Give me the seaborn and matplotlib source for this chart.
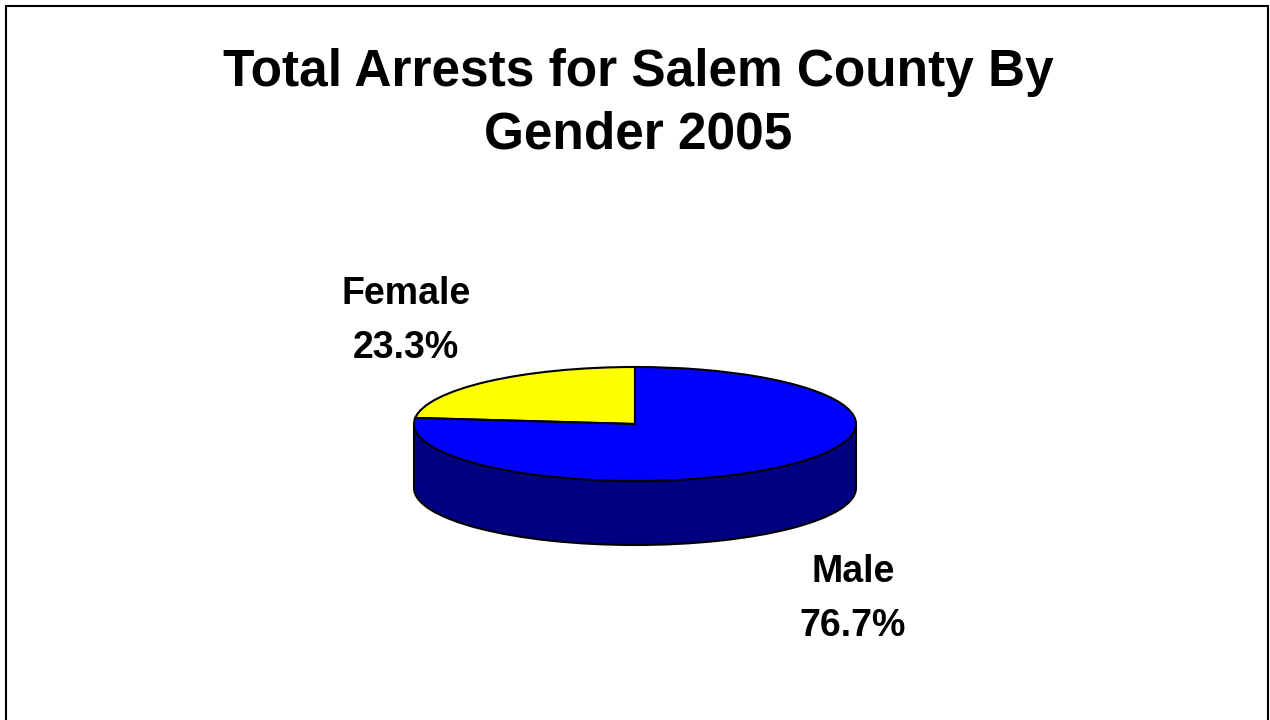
import matplotlib
matplotlib.use("Agg")
import matplotlib.pyplot as plt
import seaborn as sns

# --- Data ---
GENDERS = ["Female", "Male"]
SHARES = [23.3, 76.7]
TOP_COLORS = ["#FFFF00", "#0000FF"]
SIDE_COLORS = ["#808000", "#000080"]
TITLE = "Total Arrests for Salem County By\nGender 2005"

sns.set_theme(style="white")
plt.rcParams['font.family'] = ['Liberation Sans', 'DejaVu Sans']
plt.rcParams['text.color'] = 'black'

W, H = 1270, 720
fig = plt.figure(figsize=(12.7, 7.2), dpi=100)
fig.patch.set_facecolor("white")

# outer chart border (runs off the bottom edge as in the reference)
fig.add_artist(plt.Rectangle((6 / W, -0.05), 1262 / W, 1 - 6 / H + 0.05,
                             transform=fig.transFigure, fill=False,
                             edgecolor="black", linewidth=1.5))

fig.text(638 / W, 1 - 104 / H, TITLE, ha="center", va="center",
         fontsize=37, fontweight="bold", linespacing=1.35, color="black")

# pie axes: 1 x-unit = 221 px, 1 y-unit = 57 px (tilted ellipse)
ax_px = 221
ay_px = 57
cx, cy = 635, 424
depth = 64 / ay_px
xlim = (-1.2, 1.2)
ylim = (-2.4, 1.2)
left = cx + xlim[0] * ax_px
top = cy - ylim[1] * ay_px
w = (xlim[1] - xlim[0]) * ax_px
h = (ylim[1] - ylim[0]) * ay_px
ax = fig.add_axes([left / W, 1 - (top + h) / H, w / W, h / H])

edge = dict(edgecolor="black", linewidth=1.5)

# bottom layer of the 3D pie (fill only, then a plain outline)
ax.pie(SHARES, colors=SIDE_COLORS, startangle=90, counterclock=True,
       center=(0, -depth), wedgeprops=dict(zorder=1, linewidth=0))
ax.pie([sum(SHARES)], startangle=90, center=(0, -depth),
       wedgeprops=dict(zorder=1.5, fill=False, **edge))
# side wall
ax.fill_between([-1, 1], -depth, 0, color=SIDE_COLORS[1], linewidth=0, zorder=2)
ax.vlines([-1, 1], -depth, 0, colors="black", linewidth=1.5, zorder=2.5)
# top face
ax.pie(SHARES, colors=TOP_COLORS, startangle=90, counterclock=True,
       center=(0, 0), wedgeprops=dict(zorder=3, **edge))

ax.set_aspect("auto")
ax.set_xlim(*xlim)
ax.set_ylim(*ylim)
ax.axis("off")

# labels
label_pos = {"Female": (406, 321), "Male": (853, 599)}
for g, s in zip(GENDERS, SHARES):
    x, y = label_pos[g]
    fig.text(x / W, 1 - y / H, f"{g}\n{s:.1f}%", ha="center", va="center",
             fontsize=27, fontweight="bold", linespacing=1.62, color="black")

fig.savefig("out.png", dpi=100, facecolor="white")
